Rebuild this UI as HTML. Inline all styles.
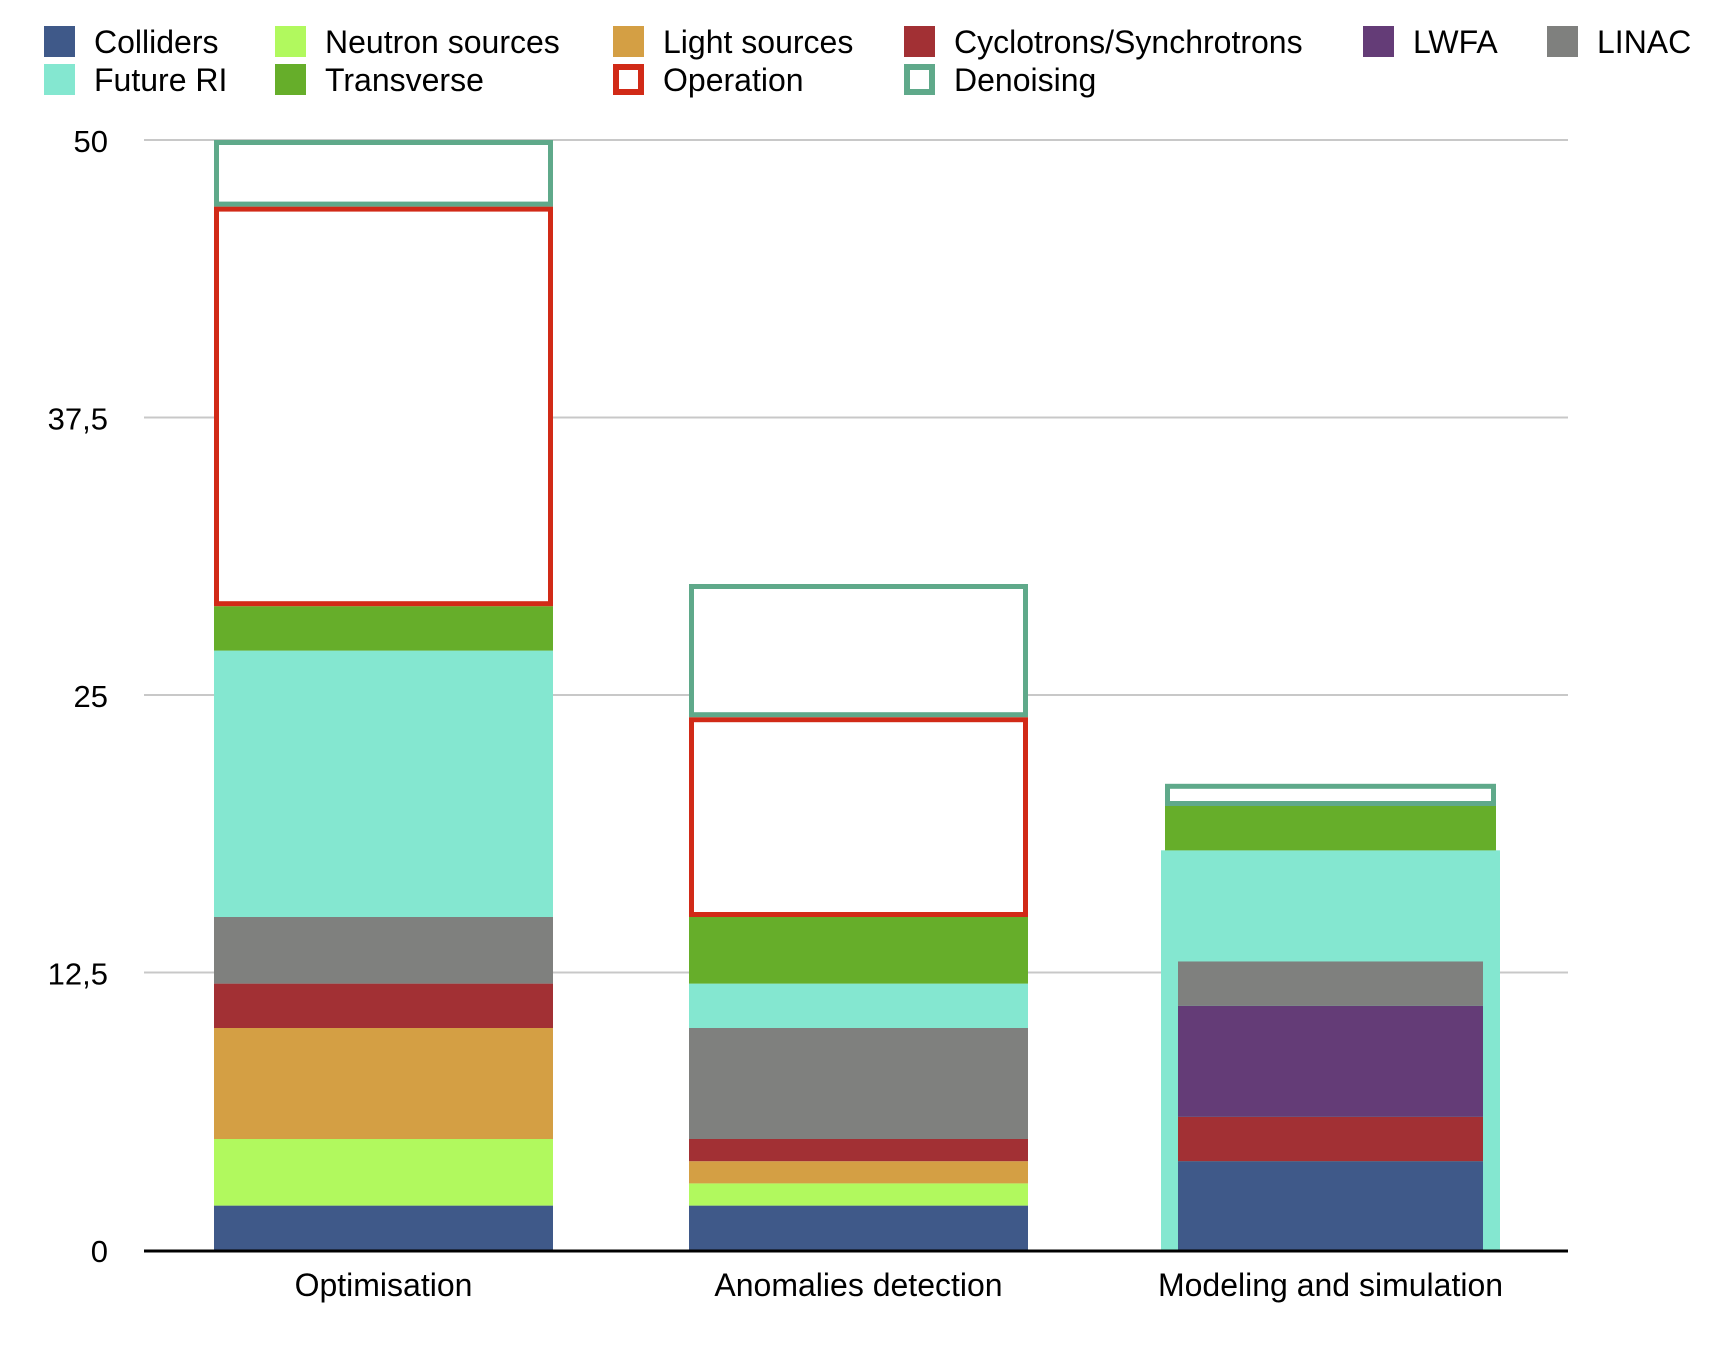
<!DOCTYPE html>
<html><head><meta charset="utf-8"><style>
html,body{margin:0;padding:0;background:#fff;}
svg{display:block;font-family:"Liberation Sans",sans-serif;}
</style></head><body>
<svg id="chart" width="1731" height="1350" viewBox="0 0 1731 1350" xmlns="http://www.w3.org/2000/svg">
<g id="grid"></g>
<g id="bars"></g>
<g id="axes"></g>
<g id="legend"></g>
</svg>
<script>
const categories = ["Optimisation", "Anomalies detection", "Modeling and simulation"];
const seriesNames = ["Colliders","Neutron sources","Light sources","Cyclotrons/Synchrotrons","LWFA","LINAC","Future RI","Transverse","Operation","Denoising"];
const colliders = [2, 2, 4];
const neutron = [3, 1, 0];
const light = [5, 1, 0];
const cyclotron = [2, 1, 2];
const lwfa = [0, 0, 5];
const linac = [3, 5, 2];
const futureRI = [12, 2, 5];
const transverse = [2, 3, 2];
const operation = [18, 9, 0];
const denoising = [3, 6, 1];
const yTicks = [0, 12.5, 25, 37.5, 50];
const yTickLabels = ["0", "12,5", "25", "37,5", "50"];

const seriesValues = [colliders, neutron, light, cyclotron, lwfa, linac, futureRI, transverse, operation, denoising];
const colors = ["#3f5989","#b1f95e","#d49f44","#a23034","#643c77","#7f807e","#84e7d0","#66ae2a","#d12a17","#5fa98a"];
const outlined = [false,false,false,false,false,false,false,false,true,true];
const NS = "http://www.w3.org/2000/svg";
const Y0 = 1250, Y50 = 140, X0 = 144, X1 = 1568;
function y(v){ return Y0 - (v/50)*(Y0-Y50); }
const barLefts = [214, 689, 1161];
const barW = 339;
function bandX(i){ return barLefts[i]; }
function mk(tag, attrs, parent){ const e=document.createElementNS(NS,tag); for(const k in attrs) e.setAttribute(k,attrs[k]); parent.appendChild(e); return e; }

const grid = document.getElementById('grid');
yTicks.forEach((t,i)=>{
  if(t>0){
    const l = mk('line',{x1:X0,x2:X1,y1:y(t),y2:y(t),stroke:'#c8c8c8','stroke-width':2},grid);
    
    
  }
  const tx = mk('text',{x:108,y:y(t)+12,'text-anchor':'end','font-size':31,fill:'#000'},grid);
  tx.textContent = yTickLabels[i];
  
  
});

const bars = document.getElementById('bars');
categories.forEach((c,ci)=>{
  let cum = 0;
  const x = bandX(ci);
  seriesValues.forEach((vals,si)=>{
    const v = vals[ci];
    if(v<=0){ return; }
    const yt = y(cum+v), yb = y(cum);
    let r;
    if(outlined[si]){
      const sw = 5;
      const off = (ci===2) ? 4 : 0;
      r = mk('rect',{x:x+off+sw/2,y:yt+sw/2,width:barW-2*off-sw,height:Math.max(0,yb-yt-sw),fill:'#fff',stroke:colors[si],'stroke-width':sw},bars);
    } else if(si===6 && ci===2){
      const bg = mk('rect',{x:x,y:yt,width:barW,height:Y0-yt,fill:colors[si]},bars);
      
      
      bars.insertBefore(bg, bars.firstChild);
      r = mk('rect',{x:x,y:yt,width:barW,height:yb-yt,fill:colors[si]},bars);
    } else {
      const inset = (ci===2) ? (si===7 ? 4 : 17) : 0;
      r = mk('rect',{x:x+inset,y:yt,width:barW-2*inset,height:yb-yt,fill:colors[si]},bars);
    }
    
    
    cum += v;
  });
  const lbl = mk('text',{x:x+barW/2,y:1296,'text-anchor':'middle','font-size':32,fill:'#000'},bars);
  lbl.textContent = c;
  
  
});

const axes = document.getElementById('axes');
const ax = mk('line',{x1:X0,x2:X1,y1:Y0+1,y2:Y0+1,stroke:'#000','stroke-width':3},axes);



const legend = document.getElementById('legend');
const legPos = [[44,42],[275,42],[613,42],[904,42],[1363,42],[1547,42],[44,80],[275,80],[613,80],[904,80]];
seriesNames.forEach((n,i)=>{
  const [lx,ly] = legPos[i];
  const g = mk('g',{},legend);
  
  
  if(outlined[i]){
    mk('rect',{x:lx+3,y:ly-13,width:25,height:25,fill:'#fff',stroke:colors[i],'stroke-width':6},g);
  } else {
    mk('rect',{x:lx,y:ly-16,width:31,height:31,fill:colors[i]},g);
  }
  const t = mk('text',{x:lx+50,y:ly+11,'font-size':32,fill:'#000'},g);
  t.textContent = n;
});
</script>
</body></html>
